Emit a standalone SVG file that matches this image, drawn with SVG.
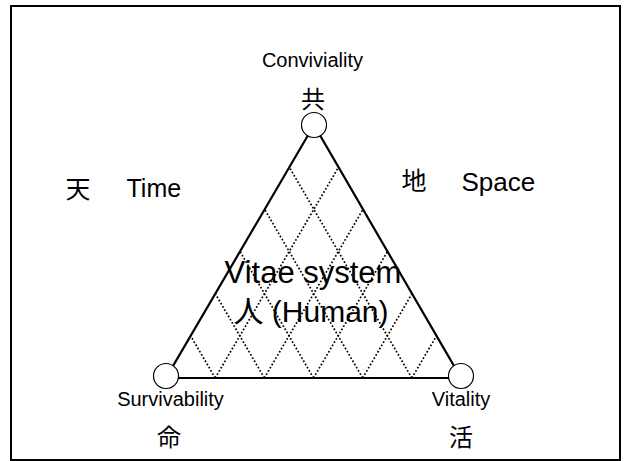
<svg xmlns="http://www.w3.org/2000/svg" width="626" height="461" viewBox="0 0 626 461">
  <style>
    .t { font-family: "Liberation Sans", "Noto Sans CJK JP", sans-serif; fill: #000; text-anchor: middle; }
    .s20 { font-size: 20px; }
    .s25 { font-size: 25px; }
    .cjk { font-family: "Noto Sans CJK JP", sans-serif; font-size: 24px; fill: #000; text-anchor: middle; }
    .edge { stroke: #000; stroke-width: 2.2; fill: none; }
    .grid { stroke: #000; stroke-width: 1.7; stroke-dasharray: 1.7 2; fill: none; }
    .vtx { fill: #fff; stroke: #000; stroke-width: 1.2; }
  </style>
  <rect x="0" y="0" width="626" height="461" fill="#fff"/>
  <rect x="11" y="6" width="609" height="454" fill="none" stroke="#000" stroke-width="2"/>

  <g id="connectors">
    <g id="lattice">
      <line class="grid" x1="215.17" y1="378" x2="190.67" y2="335.83"/>
      <line class="grid" x1="264.33" y1="378" x2="215.33" y2="293.67"/>
      <line class="grid" x1="313.5" y1="378" x2="240" y2="251.5"/>
      <line class="grid" x1="362.67" y1="378" x2="264.67" y2="209.33"/>
      <line class="grid" x1="411.83" y1="378" x2="289.33" y2="167.17"/>
      <line class="grid" x1="215.17" y1="378" x2="338.5" y2="167.17"/>
      <line class="grid" x1="264.33" y1="378" x2="363" y2="209.33"/>
      <line class="grid" x1="313.5" y1="378" x2="387.5" y2="251.5"/>
      <line class="grid" x1="362.67" y1="378" x2="412" y2="293.67"/>
      <line class="grid" x1="411.83" y1="378" x2="436.5" y2="335.83"/>
    </g>
    <polygon id="triangle" class="edge" points="314,125 166,378 461,378"/>
  </g>

  <g id="center-label">
    <text class="t" x="313" y="283" style="font-size:31px">Vitae system</text>
    <text class="t" x="311" y="322" style="font-size:30px">人 (Human)</text>
  </g>

  <g id="node-conviviality">
    <circle class="vtx" cx="314" cy="125" r="12.5"/>
    <text class="t s20" x="312.5" y="67">Conviviality</text>
    <text class="cjk" x="313" y="108">共</text>
  </g>

  <g id="node-survivability">
    <circle class="vtx" cx="166" cy="376" r="12.5"/>
    <text class="t s20" x="170.5" y="406">Survivability</text>
    <text class="cjk" x="169" y="446">命</text>
  </g>

  <g id="node-vitality">
    <circle class="vtx" cx="461" cy="376" r="12.5"/>
    <text class="t s20" x="461" y="406">Vitality</text>
    <text class="cjk" x="461" y="446">活</text>
  </g>

  <g id="label-time">
    <text class="cjk" x="78" y="197.5" style="font-size:25px">天</text>
    <text class="t s25" x="126.5" y="197" style="text-anchor:start">Time</text>
  </g>

  <g id="label-space">
    <text class="cjk" x="414" y="190" style="font-size:25px">地</text>
    <text class="t s25" x="461.5" y="191" style="text-anchor:start;font-size:26px">Space</text>
  </g>
</svg>
